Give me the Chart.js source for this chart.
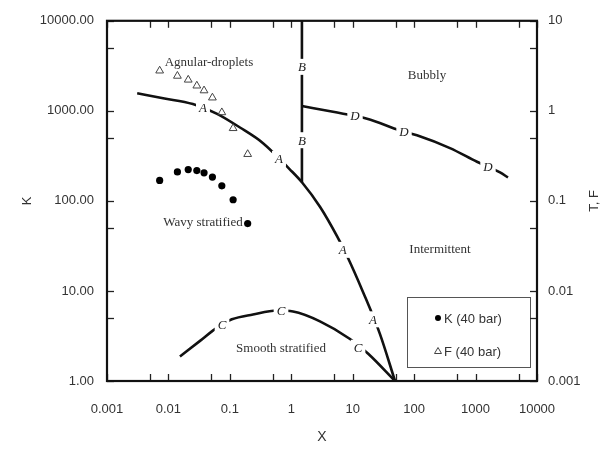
<!DOCTYPE html>
<html><head><meta charset="utf-8">
<script src="https://cdn.jsdelivr.net/npm/chart.js@4.4.1/dist/chart.umd.min.js"></script>
<style>html,body{margin:0;padding:0;background:#fff}canvas{display:block}</style>
</head><body>
<canvas id="c" width="606" height="450"></canvas>
<script>
// ---------- data ----------
const sampleX = [0.0072, 0.014, 0.021, 0.029, 0.038, 0.052, 0.074, 0.113, 0.195];
const kValues = [169, 210, 223, 217, 205, 184, 147, 103, 56];
const fValues = [2.79, 2.44, 2.21, 1.90, 1.68, 1.40, 0.96, 0.64, 0.33];
const seriesNames = ['K (40 bar)', 'F (40 bar)'];

const curveA_X = [0.0031, 0.0082, 0.025, 0.062, 0.146, 0.347, 0.953, 1.49, 2.93, 5.55, 8.2, 14.7, 27.8, 48.8];
const curveA_F = [1.57, 1.38, 1.19, 0.927, 0.653, 0.438, 0.223, 0.161, 0.0861, 0.0406, 0.024, 0.00976, 0.00332, 0.001];
const curveB_X = [1.49, 1.49];
const curveB_F = [10, 0.161];
const curveC_X = [0.0154, 0.0327, 0.0573, 0.108, 0.238, 0.585, 1.07, 2.93, 9.04, 17.7, 48.8];
const curveC_K = [1.87, 2.79, 3.77, 4.84, 5.48, 6.06, 5.91, 4.60, 2.93, 2.02, 1.0];
const curveD_X = [1.49, 4.78, 17.1, 58.9, 111, 383, 1054, 2500, 3370];
const curveD_T = [1.13, 0.975, 0.819, 0.606, 0.535, 0.386, 0.272, 0.207, 0.182];

// curve letters (right-axis values for A, B, D; left-axis values for C)
const letterA_X = [0.0365, 0.631, 6.9, 21.4];
const letterA_F = [1.10, 0.293, 0.0286, 0.00484];
const letterB_X = [1.49, 1.49];
const letterB_F = [3.08, 0.472];
const letterC_X = [0.0745, 0.68, 12.2];
const letterC_K = [4.27, 6.06, 2.34];
const letterD_X = [10.9, 68.4, 1592];
const letterD_T = [0.883, 0.591, 0.240];

// region names (left-axis values)
const regionNames = ['Agnular-droplets', 'Bubbly', 'Wavy stratified', 'Intermittent', 'Smooth stratified'];
const regionX = [0.0457, 162, 0.0365, 264, 0.68];
const regionK = [3450, 2450, 57, 28.5, 2.3];

// ticks
const xTickValues = [0.001, 0.01, 0.1, 1, 10, 100, 1000, 10000];
const xTickLabels = ['0.001', '0.01', '0.1', '1', '10', '100', '1000', '10000'];
const kTickValues = [1, 10, 100, 1000, 10000];
const kTickLabels = ['1.00', '10.00', '100.00', '1000.00', '10000.00'];
const tfTickValues = [0.001, 0.01, 0.1, 1, 10];
const tfTickLabels = ['0.001', '0.01', '0.1', '1', '10'];
const axisTitles = { x: 'X', left: 'K', right: 'T, F' };

// ---------- helpers ----------
const pts = (xs, ys) => xs.map((x, i) => ({ x: x, y: ys[i] }));
const withFives = vals => vals.concat(vals.slice(0, -1).map(v => v * 5));
const SANS = '"Liberation Sans", Arial, sans-serif';
const SERIF = '"Liberation Serif", "Times New Roman", serif';
const TXT = '#333';

const lineDs = (data, axis) => ({
  type: 'line', data: data, yAxisID: axis, order: 2,
  borderColor: '#111', borderWidth: 2.6, pointRadius: 0, fill: false,
  cubicInterpolationMode: 'monotone', showLine: true
});

const overlay = {
  id: 'overlay',
  beforeDatasetsDraw(chart) { chart.$lettersDone = false; },
  beforeDatasetDraw(chart, args) {
    const ds = chart.data.datasets[args.index];
    if (!chart.$lettersDone && ds.isPoints) { drawLetters(chart); chart.$lettersDone = true; }
  },
  afterDatasetsDraw(chart) {
    if (!chart.$lettersDone) { drawLetters(chart); chart.$lettersDone = true; }
    drawRegions(chart);
    drawLegend(chart);
  },
  afterDraw(chart) { drawFrame(chart); drawTitles(chart); }
};

function drawLetterSet(chart, letter, xs, ys, axis) {
  const ctx = chart.ctx, sx = chart.scales.x, sy = chart.scales[axis];
  ctx.font = 'italic 13px ' + SERIF;
  ctx.textAlign = 'center'; ctx.textBaseline = 'middle';
  xs.forEach((v, i) => {
    const px = sx.getPixelForValue(v), py = sy.getPixelForValue(ys[i]);
    const w = ctx.measureText(letter).width;
    ctx.fillStyle = '#fff';
    ctx.fillRect(px - w / 2 - 3, py - 8, w + 6, 16);
    ctx.fillStyle = '#222';
    ctx.fillText(letter, px, py + 1);
  });
}
function drawLetters(chart) {
  const ctx = chart.ctx; ctx.save();
  drawLetterSet(chart, 'A', letterA_X, letterA_F, 'y2');
  drawLetterSet(chart, 'B', letterB_X, letterB_F, 'y2');
  drawLetterSet(chart, 'C', letterC_X, letterC_K, 'y');
  drawLetterSet(chart, 'D', letterD_X, letterD_T, 'y2');
  ctx.restore();
}
function drawRegions(chart) {
  const ctx = chart.ctx, sx = chart.scales.x, sy = chart.scales.y;
  ctx.save();
  ctx.font = '13px ' + SERIF; ctx.fillStyle = TXT;
  ctx.textAlign = 'center'; ctx.textBaseline = 'middle';
  regionNames.forEach((n, i) => ctx.fillText(n, sx.getPixelForValue(regionX[i]), sy.getPixelForValue(regionK[i])));
  ctx.restore();
}
function drawLegend(chart) {
  const ctx = chart.ctx, a = chart.chartArea;
  const w = 123, h = 70, x0 = a.right - 7 - w, y0 = a.bottom - 14 - h;
  ctx.save();
  ctx.fillStyle = '#fff'; ctx.fillRect(x0, y0, w, h);
  ctx.strokeStyle = '#555'; ctx.lineWidth = 1; ctx.strokeRect(x0 + 0.5, y0 + 0.5, w, h);
  const mx = x0 + 31;
  const rows = [y0 + 21, y0 + 54];
  ctx.fillStyle = '#000'; ctx.beginPath(); ctx.arc(mx, rows[0], 3, 0, Math.PI * 2); ctx.fill();
  ctx.strokeStyle = '#444'; ctx.lineWidth = 1; ctx.beginPath();
  ctx.moveTo(mx, rows[1] - 3.5); ctx.lineTo(mx + 3.5, rows[1] + 2.5); ctx.lineTo(mx - 3.5, rows[1] + 2.5); ctx.closePath(); ctx.stroke();
  ctx.font = '13px ' + SANS; ctx.fillStyle = TXT; ctx.textAlign = 'left'; ctx.textBaseline = 'middle';
  ctx.fillText(seriesNames[0], mx + 6, rows[0] + 1);
  ctx.fillText(seriesNames[1], mx + 6, rows[1] + 1);
  ctx.restore();
}
function drawFrame(chart) {
  const ctx = chart.ctx, a = chart.chartArea, sx = chart.scales.x, sy = chart.scales.y, sy2 = chart.scales.y2;
  const L = 7;
  ctx.save();
  ctx.strokeStyle = '#222'; ctx.lineWidth = 1.3;
  withFives(xTickValues).forEach(v => {
    const p = Math.round(sx.getPixelForValue(v)) + 0.5;
    ctx.beginPath(); ctx.moveTo(p, a.bottom); ctx.lineTo(p, a.bottom - L); ctx.stroke();
    ctx.beginPath(); ctx.moveTo(p, a.top); ctx.lineTo(p, a.top + L); ctx.stroke();
  });
  withFives(kTickValues).forEach(v => {
    const p = Math.round(sy.getPixelForValue(v)) + 0.5;
    ctx.beginPath(); ctx.moveTo(a.left, p); ctx.lineTo(a.left + L, p); ctx.stroke();
  });
  withFives(tfTickValues).forEach(v => {
    const p = Math.round(sy2.getPixelForValue(v)) + 0.5;
    ctx.beginPath(); ctx.moveTo(a.right, p); ctx.lineTo(a.right - L, p); ctx.stroke();
  });
  ctx.strokeStyle = '#111'; ctx.lineWidth = 2.2;
  ctx.strokeRect(a.left, a.top, a.right - a.left, a.bottom - a.top);
  ctx.restore();
}
function drawTitles(chart) {
  const ctx = chart.ctx, a = chart.chartArea;
  const cx = (a.left + a.right) / 2, cy = (a.top + a.bottom) / 2;
  ctx.save();
  ctx.fillStyle = TXT; ctx.textAlign = 'center'; ctx.textBaseline = 'middle';
  ctx.font = '14px ' + SANS;
  ctx.fillText(axisTitles.x, cx, a.bottom + 56);
  ctx.font = '13px ' + SANS;
  ctx.save(); ctx.translate(a.left - 80, cy); ctx.rotate(-Math.PI / 2); ctx.fillText(axisTitles.left, 0, 0); ctx.restore();
  ctx.save(); ctx.translate(a.right + 57, cy); ctx.rotate(-Math.PI / 2); ctx.fillText(axisTitles.right, 0, 0); ctx.restore();
  ctx.restore();
}

const tickFont = { family: SANS, size: 13 };
const logAxis = (pos, min, max, vals, labels, pad, fit) => ({
  type: 'logarithmic', position: pos, min: min, max: max,
  grid: { display: false, drawTicks: false }, border: { display: false },
  afterBuildTicks: s => { s.ticks = vals.map(v => ({ value: v })); },
  afterFit: fit,
  ticks: { autoSkip: false, maxRotation: 0, minRotation: 0, padding: pad, color: TXT, font: tickFont,
           callback: (v, i) => labels[i] }
});

new Chart(document.getElementById('c'), {
  type: 'scatter',
  data: {
    datasets: [
      { label: seriesNames[0], data: pts(sampleX, kValues), yAxisID: 'y', order: 1, isPoints: true,
        pointStyle: 'circle', pointRadius: 3.6, backgroundColor: '#000', borderColor: '#000', borderWidth: 0 },
      { label: seriesNames[1], data: pts(sampleX, fValues), yAxisID: 'y2', order: 1, isPoints: true,
        pointStyle: 'triangle', pointRadius: 4.5, backgroundColor: 'rgba(255,255,255,0)', borderColor: '#444', borderWidth: 1 },
      lineDs(pts(curveA_X, curveA_F), 'y2'),
      lineDs(pts(curveB_X, curveB_F), 'y2'),
      lineDs(pts(curveC_X, curveC_K), 'y'),
      lineDs(pts(curveD_X, curveD_T), 'y2')
    ]
  },
  options: {
    responsive: false, animation: false, events: [],
    layout: { padding: { top: 13, left: 0, right: 0, bottom: 0 } },
    plugins: { legend: { display: false }, tooltip: { enabled: false } },
    scales: {
      x: logAxis('bottom', 0.001, 10000, xTickValues, xTickLabels, 21, s => { s.height = 69; }),
      y: logAxis('left', 1, 10000, kTickValues, kTickLabels, 13, s => { s.width = 107; }),
      y2: logAxis('right', 0.001, 10, tfTickValues, tfTickLabels, 11, s => { s.width = 69; })
    }
  },
  plugins: [overlay]
});
</script>
</body></html>
